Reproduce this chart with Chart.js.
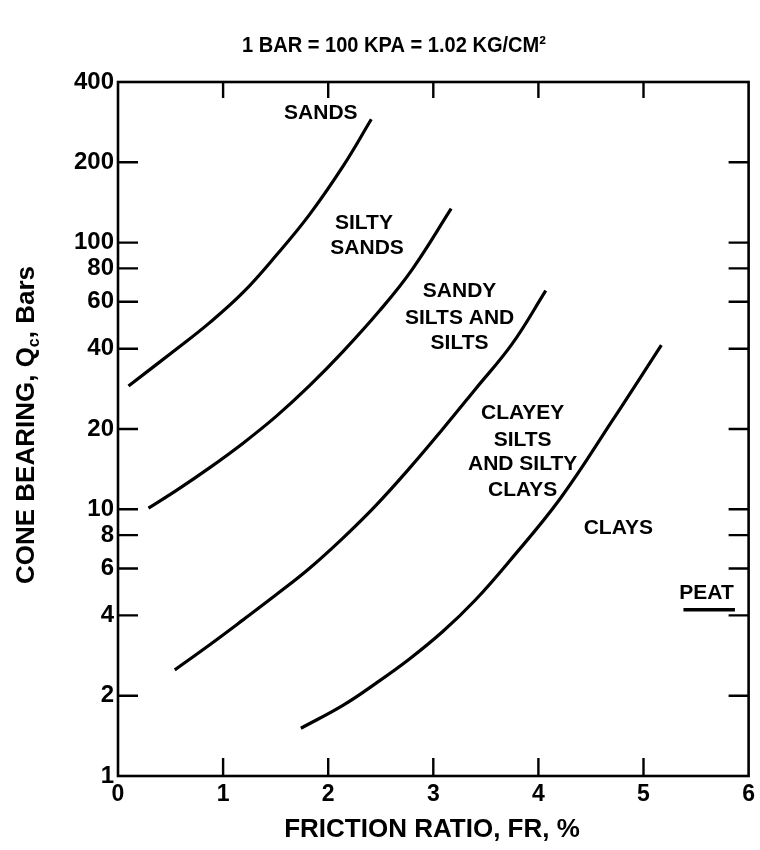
<!DOCTYPE html>
<html><head><meta charset="utf-8">
<script src="https://cdn.jsdelivr.net/npm/chart.js@4/dist/chart.umd.min.js"></script>
<style>html,body{margin:0;padding:0;background:#fff}#wrap{width:760px;height:850px}</style>
</head><body><div id="wrap"><canvas id="c" width="760" height="850"></canvas></div>
<script>
// ---- data ----
const yTickValues = [1, 2, 4, 6, 8, 10, 20, 40, 60, 80, 100, 200, 400];
const xTickValues = [0, 1, 2, 3, 4, 5, 6];
const xInnerTicks = [1, 2, 3, 4, 5];

const sandsFR = [0.10, 0.56, 0.87, 1.19, 1.51, 1.82, 2.14, 2.41];
const sandsQc = [29, 40, 50, 65, 90, 127, 193, 290];

const siltySandsFR = [0.29, 0.56, 0.87, 1.19, 1.51, 1.82, 2.14, 2.49, 2.80, 3.17];
const siltySandsQc = [10.1, 11.8, 14.3, 17.7, 22.4, 29.0, 39.0, 55.6, 79.4, 134];

const sandySiltsFR = [0.54, 0.87, 1.19, 1.51, 1.82, 2.14, 2.45, 2.77, 3.09, 3.40, 3.75, 4.07];
const sandySiltsQc = [2.5, 3.1, 3.85, 4.8, 6.0, 7.8, 10.3, 14.2, 20.0, 28.2, 41.7, 66];

const clayeySiltsFR = [1.74, 2.14, 2.45, 2.77, 3.09, 3.40, 3.72, 4.21, 4.70, 5.17];
const clayeySiltsQc = [1.51, 1.84, 2.22, 2.74, 3.48, 4.57, 6.36, 11.0, 21.4, 41.3];

const peatFR = [5.38, 5.87];
const peatQc = [4.2, 4.2];

const zoneLabels = ["SANDS", "SILTY", "SANDS", "SANDY", "SILTS AND", "SILTS",
  "CLAYEY", "SILTS", "AND SILTY", "CLAYS", "CLAYS", "PEAT"];
const zoneLabelFR = [1.93, 2.34, 2.37, 3.25, 3.25, 3.25, 3.85, 3.85, 3.85, 3.85, 4.76, 5.60];
const zoneLabelQc = [305, 118, 95, 65.5, 52, 41.9, 22.9, 18.2, 14.7, 11.8, 8.5, 4.84];

const chartTitle = "1 BAR = 100 KPA = 1.02 KG/CM\u00B2";
const xTitle = "FRICTION RATIO, FR, %";
const yTitleParts = ["CONE BEARING, Q", "c", ", Bars"];

// ---- chart ----
const FONT = '"Liberation Sans", Arial, Helvetica, sans-serif';
const toPts = (xs, ys) => xs.map((x, i) => ({x: x, y: ys[i]}));
const curve = (xs, ys) => ({
  data: toPts(xs, ys), borderColor: '#000', borderWidth: 3.2, pointRadius: 0,
  fill: false, tension: 0.4, borderCapStyle: 'butt'
});

const decor = {
  id: 'decor',
  afterDraw(chart) {
    const ctx = chart.ctx, a = chart.chartArea;
    const xs = chart.scales.x, ys = chart.scales.y;
    ctx.save();
    ctx.strokeStyle = '#000';
    ctx.lineWidth = 2.6;
    ctx.strokeRect(a.left, a.top, a.right - a.left, a.bottom - a.top);
    ctx.lineWidth = 2.4;
    ctx.beginPath();
    yTickValues.forEach(v => {
      if (v === 1 || v === 400) return;
      const py = ys.getPixelForValue(v);
      ctx.moveTo(a.left, py); ctx.lineTo(a.left + 20, py);
      ctx.moveTo(a.right, py); ctx.lineTo(a.right - 20, py);
    });
    xInnerTicks.forEach(v => {
      const px = xs.getPixelForValue(v);
      ctx.moveTo(px, a.top); ctx.lineTo(px, a.top + 16);
      ctx.moveTo(px, a.bottom); ctx.lineTo(px, a.bottom - 18);
    });
    ctx.stroke();
    // zone labels
    ctx.fillStyle = '#000';
    ctx.font = 'bold 21px ' + FONT;
    ctx.textAlign = 'center';
    ctx.textBaseline = 'middle';
    zoneLabels.forEach((t, i) => {
      ctx.fillText(t, xs.getPixelForValue(zoneLabelFR[i]), ys.getPixelForValue(zoneLabelQc[i]));
    });
    // title (slightly condensed like the original lettering)
    ctx.save();
    ctx.font = 'bold 22px ' + FONT;
    const tw = ctx.measureText(chartTitle).width;
    const k = 304 / tw;
    ctx.translate(394, 46);
    ctx.scale(k, 1);
    ctx.fillText(chartTitle, 0, 0);
    ctx.restore();
    // x title
    ctx.font = 'bold 26px ' + FONT;
    ctx.fillText(xTitle, 432, 830);
    // y title with subscript
    ctx.save();
    ctx.translate(27, 425);
    ctx.rotate(-Math.PI / 2);
    const big = 'bold 26px ' + FONT, small = 'bold 16px ' + FONT;
    ctx.font = big;
    const w0 = ctx.measureText(yTitleParts[0]).width;
    ctx.font = small;
    const w1 = ctx.measureText(yTitleParts[1]).width;
    ctx.font = big;
    const w2 = ctx.measureText(yTitleParts[2]).width;
    const sx = -(w0 + w1 + w2) / 2;
    ctx.textAlign = 'left';
    ctx.fillText(yTitleParts[0], sx, 0);
    ctx.font = small;
    ctx.fillText(yTitleParts[1], sx + w0, 8);
    ctx.font = big;
    ctx.fillText(yTitleParts[2], sx + w0 + w1, 0);
    ctx.restore();
    ctx.restore();
  }
};

new Chart(document.getElementById('c'), {
  type: 'line',
  data: {
    datasets: [
      curve(sandsFR, sandsQc),
      curve(siltySandsFR, siltySandsQc),
      curve(sandySiltsFR, sandySiltsQc),
      curve(clayeySiltsFR, clayeySiltsQc),
      Object.assign(curve(peatFR, peatQc), {tension: 0, borderWidth: 3.6})
    ]
  },
  options: {
    responsive: false,
    animation: false,
    devicePixelRatio: 1,
    layout: {padding: {left: 0, top: 82, right: 10, bottom: 0}},
    plugins: {legend: {display: false}, tooltip: {enabled: false}, title: {display: false}},
    scales: {
      x: {
        type: 'linear', min: 0, max: 6,
        afterBuildTicks: s => { s.ticks = xTickValues.map(v => ({value: v})); },
        afterFit: s => { s.height = 74; },
        grid: {display: false, drawTicks: false},
        border: {display: false},
        ticks: {color: '#000', font: {family: FONT, size: 23, weight: 'bold'}, padding: 5, maxRotation: 0, autoSkip: false}
      },
      y: {
        type: 'logarithmic', min: 1, max: 400,
        afterBuildTicks: s => { s.ticks = yTickValues.map(v => ({value: v})); },
        afterFit: s => { s.width = 118; },
        grid: {display: false, drawTicks: false},
        border: {display: false},
        ticks: {color: '#000', font: {family: FONT, size: 24, weight: 'bold'}, padding: 4, autoSkip: false,
          callback: v => String(v)}
      }
    }
  },
  plugins: [decor]
});
</script>
</body></html>
